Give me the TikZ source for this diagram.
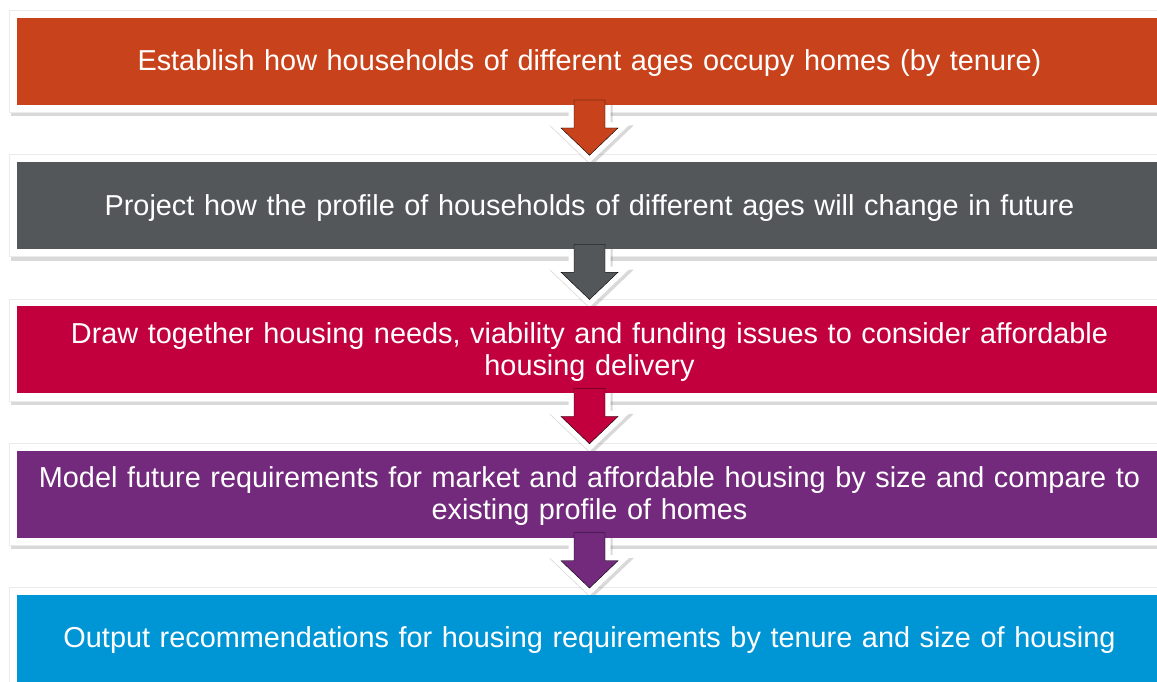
\documentclass[tikz,border=0pt]{standalone}
\usepackage{fontspec}
\setmainfont{Liberation Sans}
\usepackage{tikz}
\usetikzlibrary{matrix,backgrounds,shadows}
\definecolor{rust}{HTML}{C8431B}
\definecolor{slate}{HTML}{53575A}
\definecolor{crimson}{HTML}{C2003D}
\definecolor{plum}{HTML}{732A7D}
\definecolor{azure}{HTML}{0095D5}

\begin{document}
\begin{tikzpicture}[x=1pt, y=1pt,
  stage/.style={text=white, text width=1145pt, inner xsep=0pt, minimum height=87pt, align=center, outer sep=0pt, text height=26pt, text depth=7pt, font=\fontsize{28.85}{32.5}\selectfont},
  twolines/.style={text depth=39.5pt},
  frame/.style={fill=white, draw=black!8, line width=0.6pt, drop shadow={shadow xshift=1pt, shadow yshift=-4pt, opacity=0.3}},
  downarrow/.style={to path={([xshift=-15.5pt,yshift=5pt]\tikztostart.south) -- ([xshift=-15.5pt,yshift=-23pt]\tikztostart.south) -- ([xshift=-28.5pt,yshift=-23pt]\tikztostart.south) -- ([yshift=7pt]\tikztotarget.north) -- ([xshift=28.5pt,yshift=-23pt]\tikztostart.south) -- ([xshift=15.5pt,yshift=-23pt]\tikztostart.south) -- ([xshift=15.5pt,yshift=5pt]\tikztostart.south) -- cycle}}]
  \useasboundingbox (0,0) rectangle (1157,682);
  \matrix (m) [matrix of nodes, row sep=57.25pt, nodes={stage}] at (589.5,332)
         {
    |[fill=rust]| Establish how households of different ages occupy homes (by tenure) \\
    |[fill=slate]| Project how the profile of households of different ages will change in future \\
    |[fill=crimson, twolines]| {Draw together housing needs, viability and funding issues to consider affordable\\ housing delivery} \\
    |[fill=plum, twolines]| {Model future requirements for market and affordable housing by size and compare to\\ existing profile of homes} \\
    |[fill=azure]| Output recommendations for housing requirements by tenure and size of housing \\
  };
  \begin{scope}[on background layer]
    \foreach \i in {1,...,5}
      \fill[frame] ([xshift=-7.5pt,yshift=7.5pt]m-\i-1.north west) rectangle ([xshift=7.5pt,yshift=-7.5pt]m-\i-1.south east);
    \foreach \i [count=\j from 2] in {1,...,4} {
      \path[transform canvas={xshift=2pt,yshift=-3pt}] (m-\i-1) edge[downarrow, draw=black, draw opacity=0.15, line width=11pt] (m-\j-1);
      \path (m-\i-1) edge[downarrow, draw=white, line width=11pt] (m-\j-1);
    }
  \end{scope}
  \foreach \i/\c [count=\j from 2] in {1/rust,2/slate,3/crimson,4/plum}
    \path (m-\i-1) edge[downarrow, fill=\c] (m-\j-1);
\end{tikzpicture}
\end{document}
